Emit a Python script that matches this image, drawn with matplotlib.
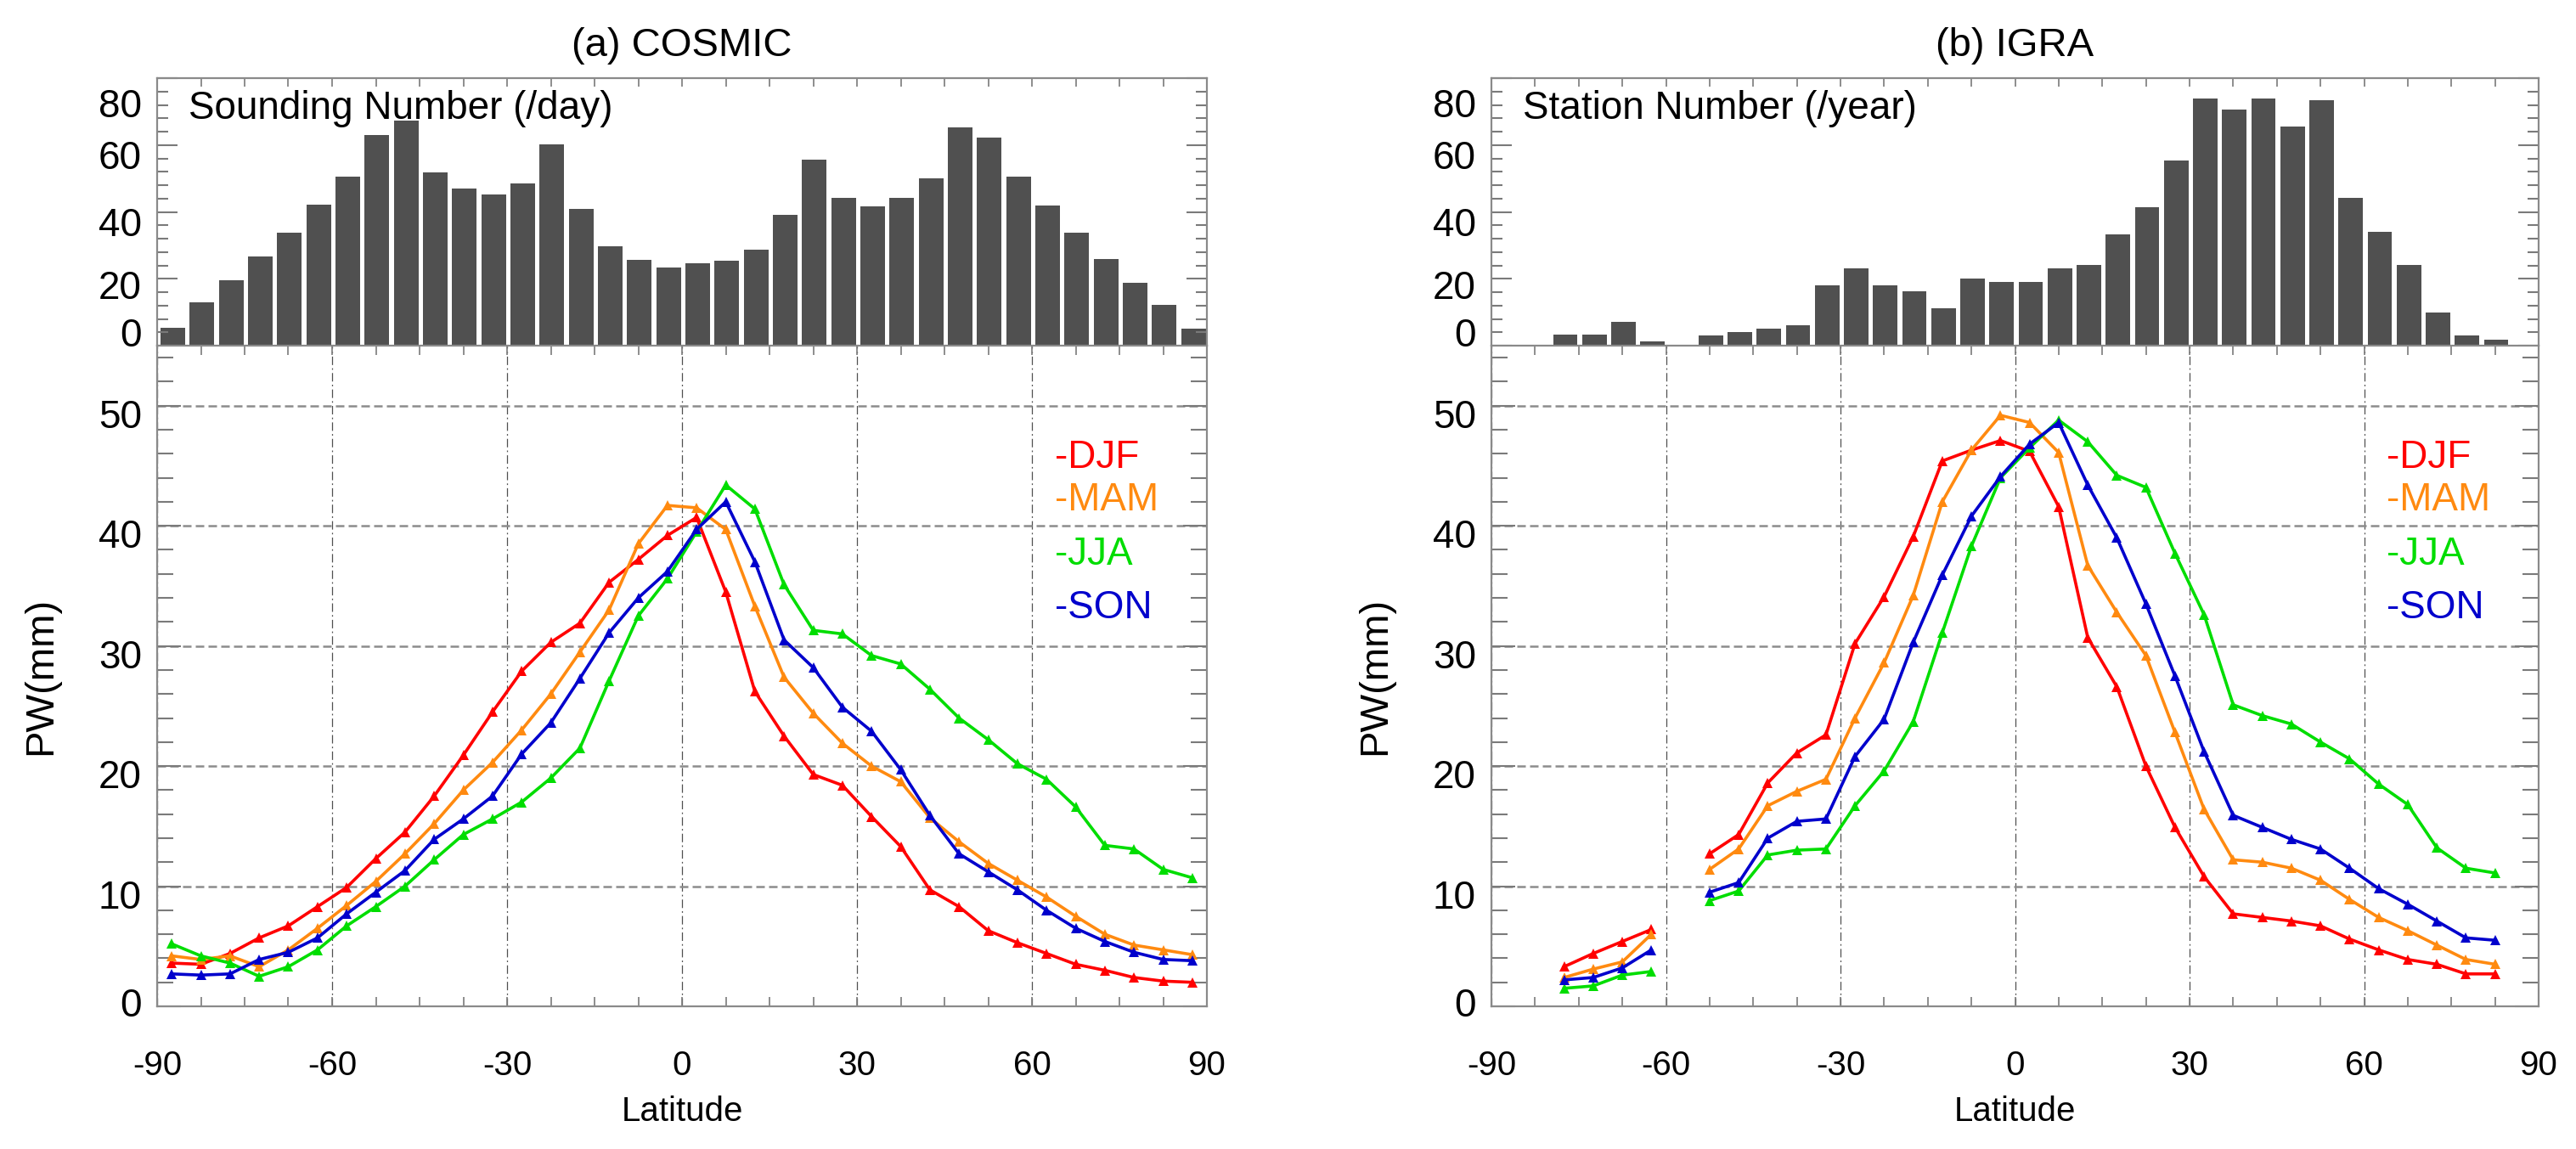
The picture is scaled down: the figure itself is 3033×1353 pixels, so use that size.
import numpy as np
import matplotlib
matplotlib.use('Agg')
import matplotlib.pyplot as plt
from matplotlib.ticker import MultipleLocator, FixedLocator
from matplotlib.transforms import ScaledTranslation

plt.rcParams['font.family'] = ['Liberation Sans', 'DejaVu Sans']
plt.rcParams['axes.unicode_minus'] = False

# ---------------- data ----------------
lat_edges = np.arange(-90, 90, 5)          # left edges of the 5-degree bins
lat_centers = lat_edges + 2.5

cosmic_count = [5.3, 12.9, 19.6, 26.6, 33.8, 42.1, 50.6, 63.1, 67.2, 51.9, 47.0, 45.3,
                48.5, 60.2, 41.0, 29.8, 25.7, 23.3, 24.7, 25.4, 28.8, 39.0, 55.5, 44.1,
                41.7, 44.1, 50.0, 65.3, 62.3, 50.6, 41.9, 33.8, 26.0, 18.9, 12.2, 5.1]
igra_count = [0, 0, 3.2, 3.2, 7.0, 1.3, 0, 3.1, 4.0, 5.1, 6.1, 18.0,
              23.1, 18.0, 16.2, 11.1, 20.0, 19.1, 19.1, 23.1, 24.1, 33.2, 41.3, 55.3,
              74.0, 70.5, 74.0, 65.4, 73.4, 44.1, 34.0, 24.1, 10.0, 3.1, 1.9, 0]

nan = np.nan
cosmic_djf = [3.6, 3.5, 4.4, 5.7, 6.7, 8.3, 9.9, 12.3, 14.5, 17.5, 20.9, 24.5, 27.9, 30.3, 31.9, 35.3, 37.2, 39.2,
              40.7, 34.5, 26.2, 22.5, 19.3, 18.4, 15.8, 13.3, 9.7, 8.3, 6.3, 5.3, 4.4, 3.5, 3.0, 2.4, 2.1, 2.0]
cosmic_mam = [4.2, 3.9, 4.2, 3.3, 4.7, 6.5, 8.4, 10.4, 12.7, 15.2, 18.0, 20.3, 23.0, 26.0, 29.5, 33.0, 38.5, 41.7,
              41.5, 39.7, 33.3, 27.4, 24.4, 21.9, 20.0, 18.7, 15.7, 13.7, 11.9, 10.5, 9.1, 7.5, 6.0, 5.1, 4.7, 4.3]
cosmic_jja = [5.2, 4.2, 3.6, 2.5, 3.3, 4.7, 6.7, 8.3, 10.0, 12.2, 14.3, 15.6, 17.0, 19.0, 21.5, 27.1, 32.5, 35.6,
              39.5, 43.4, 41.4, 35.1, 31.3, 31.0, 29.2, 28.5, 26.4, 24.0, 22.2, 20.2, 18.9, 16.6, 13.4, 13.1, 11.4, 10.7]
cosmic_son = [2.7, 2.6, 2.7, 3.9, 4.5, 5.7, 7.7, 9.5, 11.3, 13.9, 15.6, 17.5, 21.0, 23.6, 27.3, 31.1, 34.0, 36.2,
              39.7, 42.0, 37.0, 30.5, 28.2, 24.9, 22.9, 19.7, 15.9, 12.7, 11.2, 9.7, 8.0, 6.5, 5.4, 4.5, 3.9, 3.8]

igra_djf = [nan, nan, 3.3, 4.4, 5.4, 6.4, nan, 12.7, 14.3, 18.6, 21.1, 22.6, 30.2, 34.1, 39.1, 45.4, 46.3, 47.1,
            46.2, 41.6, 30.7, 26.6, 20.0, 14.9, 10.8, 7.7, 7.4, 7.1, 6.7, 5.6, 4.7, 3.9, 3.5, 2.7, 2.7, nan]
igra_mam = [nan, nan, 2.4, 3.1, 3.7, 6.0, nan, 11.4, 13.1, 16.7, 17.9, 18.9, 24.0, 28.6, 34.2, 42.0, 46.3, 49.2,
            48.6, 46.1, 36.7, 32.8, 29.2, 22.8, 16.4, 12.2, 12.0, 11.5, 10.5, 8.9, 7.4, 6.3, 5.1, 3.9, 3.5, nan]
igra_jja = [nan, nan, 1.5, 1.7, 2.6, 2.9, nan, 8.8, 9.6, 12.6, 13.0, 13.1, 16.7, 19.6, 23.7, 31.1, 38.3, 44.0,
            46.5, 48.8, 47.0, 44.2, 43.2, 37.7, 32.6, 25.1, 24.2, 23.5, 22.0, 20.6, 18.5, 16.8, 13.2, 11.5, 11.1, nan]
igra_son = [nan, nan, 2.2, 2.4, 3.2, 4.7, nan, 9.5, 10.3, 14.0, 15.4, 15.6, 20.8, 23.9, 30.3, 35.9, 40.8, 44.1,
            46.8, 48.6, 43.4, 39.0, 33.5, 27.5, 21.2, 15.9, 14.9, 13.9, 13.1, 11.5, 9.8, 8.5, 7.1, 5.7, 5.5, nan]

seasons = ['DJF', 'MAM', 'JJA', 'SON']
season_colors = ['#ff0000', '#ff8a10', '#00dd00', '#0000cc']

panel_titles = ['(a) COSMIC', '(b) IGRA']
hist_labels = ['Sounding Number (/day)', 'Station Number (/year)']
hist_yticks = [0, 20, 40, 60, 80]
pw_yticks = [0, 10, 20, 30, 40, 50]
lat_ticks = [-90, -60, -30, 0, 30, 60, 90]

# ---------------- figure ----------------
W, H = 3033, 1353
fig = plt.figure(figsize=(W / 100, H / 100), dpi=100)

def fx(px):
    return px / W

def fy(py):
    return 1 - py / H

panel_x = [(185, 1421), (1756, 2989)]
hist_top, split, bottom = 92, 407, 1185

frame_col = '#8a8a8a'
tick_col = '#7a7a7a'

counts = [cosmic_count, igra_count]
series = [[cosmic_djf, cosmic_mam, cosmic_jja, cosmic_son],
          [igra_djf, igra_mam, igra_jja, igra_son]]

def offset_labels(ax, offsets_px):
    ticks = ax.yaxis.get_major_ticks()
    for tick, dy in zip(ticks, offsets_px):
        lab = tick.label1
        lab.set_transform(lab.get_transform() + ScaledTranslation(0, dy / 100, fig.dpi_scale_trans))

for p in range(2):
    x0, x1 = panel_x[p]
    axh = fig.add_axes([fx(x0), fy(split), fx(x1 - x0), (split - hist_top) / H])
    axl = fig.add_axes([fx(x0), fy(bottom), fx(x1 - x0), (bottom - split) / H])

    # ---- histogram ----
    axh.bar(lat_edges + 0.6, counts[p], width=4.2, align='edge', color='#505050', edgecolor='none')
    axh.set_xlim(-90, 90)
    axh.set_ylim(0, 80)
    axh.yaxis.set_major_locator(FixedLocator(hist_yticks))
    axh.yaxis.set_minor_locator(MultipleLocator(4))
    axh.xaxis.set_major_locator(FixedLocator(lat_ticks))
    axh.xaxis.set_minor_locator(MultipleLocator(7.5))
    axh.tick_params(axis='x', which='both', direction='in', top=True, bottom=False,
                    labelbottom=False, length=7, width=1.2, color=tick_col)
    axh.tick_params(axis='y', which='major', direction='in', left=True, right=True,
                    length=17, width=1.5, color=tick_col, labelsize=33, pad=13)
    axh.tick_params(axis='y', which='minor', direction='in', left=True, right=True,
                    length=9.5, width=1.5, color=tick_col)
    for s in ['top', 'left', 'right']:
        axh.spines[s].set_color(frame_col)
        axh.spines[s].set_linewidth(1.6)
    axh.spines['bottom'].set_visible(False)
    axh.text(0.03, 0.848, hist_labels[p], transform=axh.transAxes, fontsize=33,
             ha='left', va='baseline', color='black')
    axh.set_title(panel_titles[p], fontsize=34, pad=19)
    offset_labels(axh, [16, -7, -11, -11, -29])

    # ---- PW lines ----
    for vals, col in zip(series[p], season_colors):
        axl.plot(lat_centers, np.array(vals, dtype=float), color=col, lw=2.6,
                 marker='^', ms=9, mew=0, zorder=3)
    axl.set_xlim(-90, 90)
    axl.set_ylim(0, 55)
    axl.xaxis.set_major_locator(FixedLocator(lat_ticks))
    axl.xaxis.set_minor_locator(MultipleLocator(7.5))
    axl.yaxis.set_major_locator(FixedLocator(pw_yticks))
    axl.yaxis.set_minor_locator(MultipleLocator(2))
    axl.tick_params(axis='x', which='both', direction='in', top=True, bottom=True,
                    length=8, width=1.2, color=tick_col, labelsize=29, pad=37)
    axl.tick_params(axis='y', which='major', direction='in', left=True, right=True,
                    length=20, width=1.5, color=tick_col, labelsize=33, pad=13)
    axl.tick_params(axis='y', which='minor', direction='in', left=True, right=True,
                    length=14, width=1.5, color=tick_col)
    for s in axl.spines.values():
        s.set_color(frame_col)
        s.set_linewidth(1.6)
    axl.yaxis.grid(True, which='major', color='#8c8c8c', lw=1.8, linestyle=(0, (4, 2)), zorder=1)
    axl.xaxis.grid(True, which='major', color='#505050', lw=0.9, linestyle=(0, (8, 3, 1.5, 3)), zorder=1)
    axl.set_axisbelow(True)
    axl.set_xlabel('Latitude', fontsize=29)
    axl.xaxis.set_label_coords(0.5, -0.135)
    axl.set_ylabel('PW(mm)', fontsize=34)
    axl.yaxis.set_label_coords(-0.093, 0.5)
    offset_labels(axl, [5, -9, -9, -9, -9, -9])

    legend_y = [0.815, 0.751, 0.668, 0.588]
    for name, col, yy in zip(seasons, season_colors, legend_y):
        axl.text(0.855, yy, '-' + name, transform=axl.transAxes, color=col,
                 fontsize=33, ha='left', va='baseline')

fig.savefig('out.png', dpi=100)
